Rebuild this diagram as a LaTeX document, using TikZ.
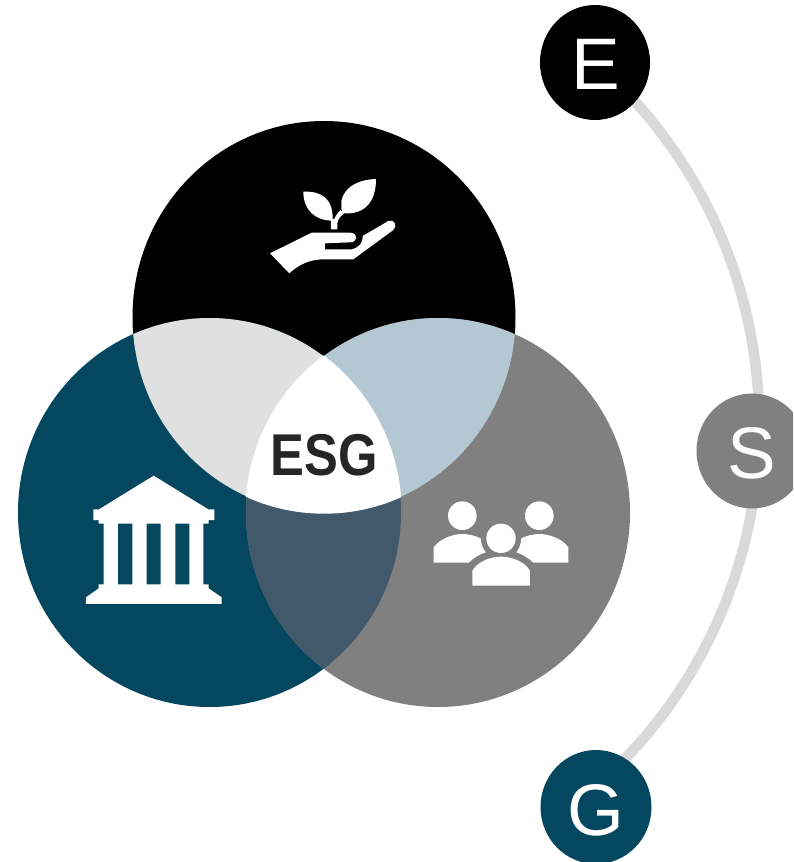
\documentclass[tikz,border=0pt]{standalone}
\usepackage{fontspec}
\setmainfont{Liberation Sans}
\newfontfamily\esgfont[FakeStretch=0.86]{Liberation Sans}
\definecolor{esgblue}{HTML}{04475F}
\definecolor{esggray}{HTML}{808080}
\definecolor{ovlA}{HTML}{E0E0E0}
\definecolor{ovlB}{HTML}{B4C8D4}
\definecolor{ovlC}{HTML}{42596C}
\definecolor{arcgray}{HTML}{D9D9D9}
\definecolor{esgtext}{HTML}{262626}
\def\TopC{(324,317) ellipse [x radius=191.5,y radius=196]}
\def\LeftC{(209.5,512.5) ellipse [x radius=191.5,y radius=194.5]}
\def\RightC{(438,512.5) ellipse [x radius=192,y radius=194.5]}
\def\TopW{(324,317) ellipse [x radius=192.2,y radius=196.7]}
\def\LeftW{(209.5,512.5) ellipse [x radius=192.2,y radius=195.2]}
\def\RightW{(438,512.5) ellipse [x radius=192.7,y radius=195.2]}
\tikzset{
  badge/.style={circle,minimum size=0pt,inner sep=0pt,text=white,font=\fontsize{73}{73}\selectfont},
  iconfill/.style={fill=white,draw=none},
  band/.style={draw=arcgray,line width=10.5pt,line cap=butt},
}
\begin{document}
\begin{tikzpicture}[x=1pt,y=-1pt]
\useasboundingbox (0,0) rectangle (793,862);
\begin{scope}
\clip (0,0) rectangle (793,862);
% discs
\fill[black] \TopC;
\fill[esgblue] \LeftC;
\fill[esggray] \RightC;
\begin{scope}\clip \TopC; \fill[ovlA] \LeftC; \end{scope}
\begin{scope}\clip \TopC; \fill[ovlB] \RightC; \end{scope}
\begin{scope}\clip \LeftC; \fill[ovlC] \RightC; \end{scope}
\begin{scope}\clip \TopW; \clip \LeftW; \fill[white] \RightW; \end{scope}
\node[inner sep=0pt,text=esgtext,font=\esgfont\bfseries\fontsize{59}{59}\selectfont] (esg) at (324,455.5) {ESG};
% connector and badges
\coordinate (Ec) at (595,62.5);
\coordinate (Sc) at (752,451);
\coordinate (Gc) at (596,807);
\coordinate (arcA) at (596,63);
\coordinate (arcB) at (592,790);
\draw[band] (arcA) to[bend left=48.9,looseness=1.027] (arcB);
\fill[black] (Ec) ellipse [x radius=55,y radius=57.5];
\fill[esggray] (Sc) ellipse [x radius=55.5,y radius=57.5];
\fill[esgblue] (Gc) ellipse [x radius=55.5,y radius=57];
\node[badge] (E) at (596,64) {E};
\node[badge] (S) at (752,453) {S};
\node[badge] (G) at (596,810) {G};
% hand and plant
\begin{scope}[shift={(250,160)},x=0.3333pt,y=-0.3333pt]
\fill[iconfill] (60,280) -- (185,218) -- (300,218)
  .. controls (325,218) and (325,247) .. (300,247) -- (225,250) -- (225,268) -- (305,268)
  .. controls (328,262) and (338,250) .. (338,228) -- (415,183)
  .. controls (432,175) and (444,198) .. (430,210) -- (310,298) -- (215,298)
  .. controls (175,300) and (145,315) .. (118,340) -- cycle;
\fill[iconfill] (160,95) .. controls (215,93) and (250,115) .. (248,182)
  .. controls (195,182) and (160,150) .. (160,95) -- cycle;
\fill[iconfill] (378,57) .. controls (378,125) and (345,165) .. (278,160)
  .. controls (262,120) and (285,60) .. (378,57) -- cycle;
\fill[iconfill] (243,175) -- (243,208) -- (262,208) -- (262,190)
  .. controls (263,178) and (272,168) .. (282,160) -- (272,150)
  .. controls (262,160) and (256,168) .. (252,178) -- cycle;
\end{scope}
% building
\begin{scope}[shift={(70,460)},x=0.3333pt,y=-0.3333pt]
\fill[iconfill,even odd rule] (251,47) -- (415,148) -- (433,148) -- (433,180) -- (416,180) -- (416,191) -- (400,191)
  -- (400,373) -- (416,373) -- (416,385) -- (455,412) -- (455,432) -- (48,432) -- (48,412) -- (86,385)
  -- (86,373) -- (101,373) -- (101,191) -- (86,191) -- (86,180) -- (70,180) -- (70,148) -- (87,148) -- cycle
  (144,191) rectangle (187,373) (230,191) rectangle (272,373) (316,191) rectangle (358,373);
\end{scope}
% people
\begin{scope}[shift={(420,490)},x=0.3333pt,y=-0.3333pt]
\fill[iconfill] (127,77) circle [x radius=43,y radius=43];
\fill[iconfill] (358,77) circle [x radius=43,y radius=43];
\fill[iconfill] (243,145) circle [x radius=44,y radius=44];
\fill[iconfill] (157,287) -- (157,242) .. controls (175,212) and (215,200) .. (243,200)
  .. controls (271,200) and (312,212) .. (330,242) -- (330,287) -- cycle;
\fill[iconfill] (41,218) -- (41,172) .. controls (60,145) and (100,132) .. (127,132)
  .. controls (145,132) and (165,137) .. (182,145) .. controls (183,162) and (188,176) .. (198,187) .. controls (180,192) and (160,204) .. (146,218) -- cycle;
\fill[iconfill] (445,218) -- (445,172) .. controls (426,145) and (386,132) .. (358,132)
  .. controls (340,132) and (320,137) .. (304,145) .. controls (303,162) and (298,176) .. (289,187) .. controls (306,192) and (326,204) .. (340,218) -- cycle;
\end{scope}
\end{scope}
\end{tikzpicture}
\end{document}
